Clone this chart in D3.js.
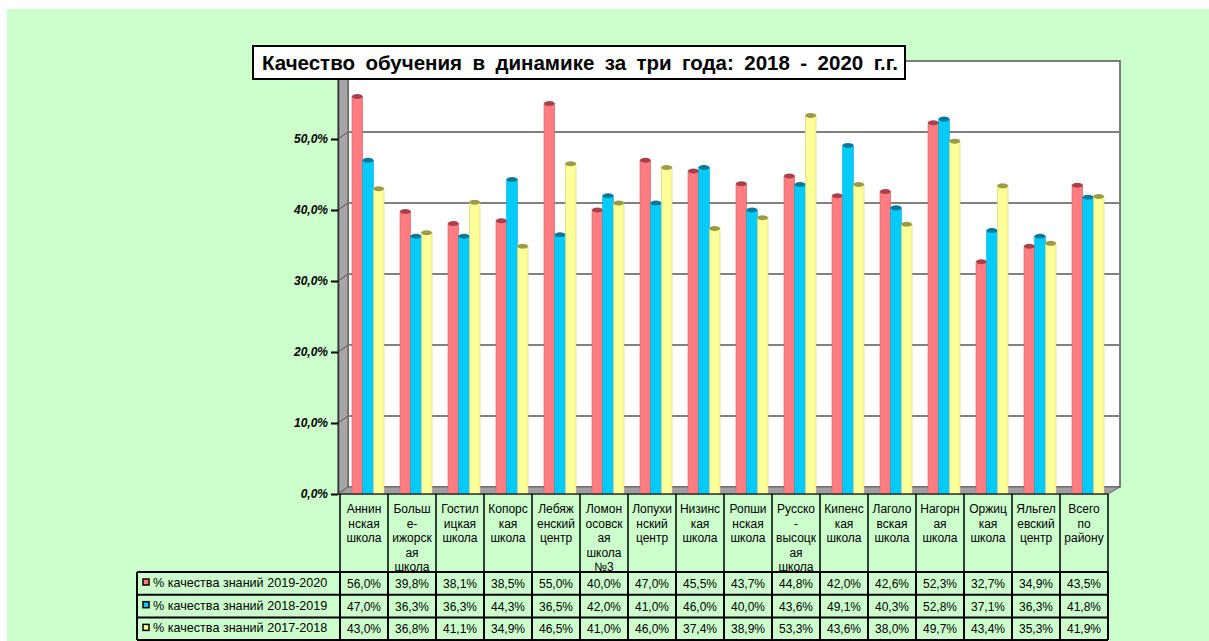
<!DOCTYPE html>
<html>
<head>
<meta charset="utf-8">
<script src="https://cdn.jsdelivr.net/npm/d3@7"></script>
<style>
  body { margin: 0; background: #fff; }
  svg { display: block; font-family: Arial, "Liberation Sans", sans-serif; }
</style>
</head>
<body>
<svg id="chart" width="1209" height="641"></svg>
<script>
// category labels, wrapped as in the original table
const categories = [
  ["Аннин", "нская", "школа"],
  ["Больш", "е-", "ижорск", "ая", "школа"],
  ["Гостил", "ицкая", "школа"],
  ["Копорс", "кая", "школа"],
  ["Лебяж", "енский", "центр"],
  ["Ломон", "осовск", "ая", "школа", "№3"],
  ["Лопухи", "нский", "центр"],
  ["Низинс", "кая", "школа"],
  ["Ропши", "нская", "школа"],
  ["Русско", "-", "высоцк", "ая", "школа"],
  ["Кипенс", "кая", "школа"],
  ["Лаголо", "вская", "школа"],
  ["Нагорн", "ая", "школа"],
  ["Оржиц", "кая", "школа"],
  ["Яльгел", "евский", "центр"],
  ["Всего", "по", "району"]
];
const seriesNames = [
  "% качества знаний 2019-2020",
  "% качества знаний 2018-2019",
  "% качества знаний 2017-2018"
];
const values2020 = [56.0, 39.8, 38.1, 38.5, 55.0, 40.0, 47.0, 45.5, 43.7, 44.8, 42.0, 42.6, 52.3, 32.7, 34.9, 43.5];
const values2019 = [47.0, 36.3, 36.3, 44.3, 36.5, 42.0, 41.0, 46.0, 40.0, 43.6, 49.1, 40.3, 52.8, 37.1, 36.3, 41.8];
const values2018 = [43.0, 36.8, 41.1, 34.9, 46.5, 41.0, 46.0, 37.4, 38.9, 53.3, 43.6, 38.0, 49.7, 43.4, 35.3, 41.9];
const yTicks = [0, 10, 20, 30, 40, 50];
const title = "Качество обучения в динамике за три года: 2018 - 2020 г.г.";

const allSeries = [values2020, values2019, values2018];
const fills = ["#ff7c80", "#00ccff", "#ffff99"];
const caps = ["#a8404a", "#007a9c", "#9c9c48"];

const svg = d3.select("#chart");
const fmt = v => v.toFixed(1).replace(".", ",") + "%";

// background
svg.append("rect").attr("x", 7).attr("y", 9).attr("width", 1202).attr("height", 632).attr("fill", "#ccffcc");

const x = d3.scaleBand().domain(d3.range(categories.length)).range([340, 1108]);
const xs = d3.scaleBand().domain(d3.range(3)).range([12, 44]);
const y = d3.scaleLinear().domain([0, 60]).range([494, 68]);
const dx = 10, dy = -7; // 3D depth shift
const wallL = 338, wallR = x.range()[1];

// back wall
svg.append("rect")
  .attr("x", wallL + dx).attr("y", y(60) + dy)
  .attr("width", wallR + dx + 2 - (wallL + dx)).attr("height", y(0) - y(60))
  .attr("fill", "#fff").attr("stroke", "#555").attr("stroke-width", 1.5);

// left wall
svg.append("path")
  .attr("d", `M${wallL},${y(60)} L${wallL + dx},${y(60) + dy} L${wallL + dx},${y(0) + dy} L${wallL},${y(0)} Z`)
  .attr("fill", "#a6a6a6").attr("stroke", "#555").attr("stroke-width", 1);

// floor
svg.append("path")
  .attr("d", `M${wallL},${y(0)} L${wallR},${y(0)} L${wallR + dx + 2},${y(0) + dy} L${wallL + dx},${y(0) + dy} Z`)
  .attr("fill", "#a0a0a0").attr("stroke", "#666").attr("stroke-width", 1);

// gridlines
yTicks.filter(d => d > 0).forEach(v => {
  svg.append("line")
    .attr("x1", wallL + dx).attr("x2", wallR + dx + 2)
    .attr("y1", y(v) + dy).attr("y2", y(v) + dy)
    .attr("stroke", "#808080").attr("stroke-width", 2);
  svg.append("line")
    .attr("x1", wallL).attr("x2", wallL + dx)
    .attr("y1", y(v)).attr("y2", y(v) + dy)
    .attr("stroke", "#555").attr("stroke-width", 1);
});

// bars
allSeries.forEach((vals, s) => {
  const g = svg.append("g");
  g.selectAll("rect").data(vals).enter().append("rect")
    .attr("x", (d, i) => x(i) + xs(s))
    .attr("y", d => y(d))
    .attr("width", xs.bandwidth())
    .attr("height", d => y(0) - y(d))
    .attr("fill", fills[s])
    .attr("stroke", d3.color(fills[s]).darker(0.6))
    .attr("stroke-width", 0.6);
  g.selectAll("ellipse").data(vals).enter().append("ellipse")
    .attr("cx", (d, i) => x(i) + xs(s) + xs.bandwidth() / 2)
    .attr("cy", d => y(d))
    .attr("rx", xs.bandwidth() / 2)
    .attr("ry", 2.5)
    .attr("fill", caps[s]);
});

// y axis
const yAxis = svg.append("g")
  .attr("transform", `translate(${wallL},0)`)
  .call(d3.axisLeft(y).tickValues(yTicks).tickFormat(fmt).tickSize(7).tickSizeOuter(0));
yAxis.select(".domain").attr("stroke", "#333").attr("stroke-width", 1.5);
yAxis.selectAll(".tick line").attr("stroke", "#000").attr("stroke-width", 2);
yAxis.selectAll(".tick text")
  .attr("x", -10)
  .style("font-size", "12px").style("font-weight", "bold").style("font-style", "italic")
  .attr("fill", "#000");

// front floor edge
svg.append("line").attr("x1", wallL).attr("x2", wallR).attr("y1", y(0)).attr("y2", y(0))
  .attr("stroke", "#333").attr("stroke-width", 1.5);

// category label area
const tableTop = 572, rowH = 22.7, legendLeft = 137;
categories.forEach((lines, i) => {
  svg.append("line")
    .attr("x1", x(i)).attr("x2", x(i)).attr("y1", y(0)).attr("y2", tableTop)
    .attr("stroke", "#000").attr("stroke-width", 1.5);
  const t = svg.append("text")
    .attr("x", x(i) + x.bandwidth() / 2)
    .attr("y", 513)
    .attr("text-anchor", "middle")
    .style("font-size", "12px")
    .attr("fill", "#000");
  lines.forEach((l, k) => t.append("tspan").attr("x", x(i) + x.bandwidth() / 2).attr("dy", k === 0 ? 0 : 14.5).text(l));
});
svg.append("line")
  .attr("x1", wallR).attr("x2", wallR).attr("y1", y(0)).attr("y2", tableTop)
  .attr("stroke", "#000").attr("stroke-width", 1.5);

// data table
const tableBottom = tableTop + rowH * 3;
allSeries.forEach((vals, s) => {
  const ry = tableTop + s * rowH;
  svg.append("rect")
    .attr("x", legendLeft + 6).attr("y", ry + 7)
    .attr("width", 6).attr("height", 6)
    .attr("fill", fills[s]).attr("stroke", "#000").attr("stroke-width", 1.5);
  svg.append("text")
    .attr("x", legendLeft + 16).attr("y", ry + 15)
    .style("font-size", "12.6px").attr("fill", "#000")
    .text(seriesNames[s]);
  vals.forEach((v, i) => {
    svg.append("text")
      .attr("x", x(i) + x.bandwidth() / 2).attr("y", ry + 16)
      .attr("text-anchor", "middle")
      .style("font-size", "12px").attr("fill", "#000")
      .text(fmt(v));
  });
  svg.append("line")
    .attr("x1", legendLeft).attr("x2", wallR)
    .attr("y1", ry).attr("y2", ry)
    .attr("stroke", "#000").attr("stroke-width", 2);
});
svg.append("line")
  .attr("x1", legendLeft).attr("x2", wallR).attr("y1", tableBottom).attr("y2", tableBottom)
  .attr("stroke", "#000").attr("stroke-width", 2);
[legendLeft].concat(d3.range(categories.length).map(i => x(i)), [wallR]).forEach(cx => {
  svg.append("line")
    .attr("x1", cx).attr("x2", cx).attr("y1", tableTop).attr("y2", tableBottom)
    .attr("stroke", "#000").attr("stroke-width", 2);
});

// title: widen the word gaps to fill the box like the original
svg.append("rect")
  .attr("x", 253).attr("y", 46).attr("width", 652).attr("height", 33)
  .attr("fill", "#fff").attr("stroke", "#000").attr("stroke-width", 2);
const titleText = svg.append("text")
  .attr("x", 262).attr("y", 70)
  .style("font-size", "20.5px").style("font-weight", "bold")
  .attr("fill", "#000")
  .text(title);
const natural = titleText.node().getComputedTextLength();
const gaps = title.split(" ").length - 1;
if (natural < 636) titleText.style("word-spacing", (636 - natural) / gaps + "px");
else titleText.attr("textLength", 636).attr("lengthAdjust", "spacingAndGlyphs");
</script>
</body>
</html>
